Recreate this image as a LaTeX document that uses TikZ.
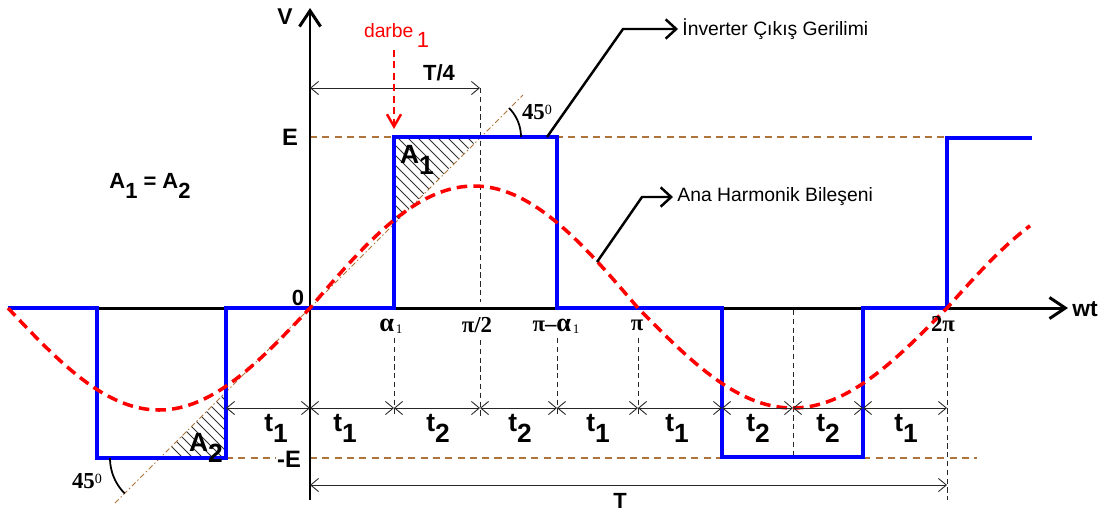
\documentclass[tikz,border=0pt]{standalone}
\usepackage{fontspec}
\setmainfont{Liberation Sans}
\newfontfamily\timesf{Liberation Serif}
\usetikzlibrary{arrows.meta}
\definecolor{wblue}{RGB}{0,0,255}
\definecolor{wred}{RGB}{255,0,0}
\definecolor{wbrown}{RGB}{175,115,60}
\newcommand{\dn}[1]{\raisebox{-0.42em}{#1}}
\begin{document}
\begin{tikzpicture}[x=0.02cm,y=-0.02cm,
  every node/.style={inner sep=0pt, outer sep=0pt},
  axisline/.style={line width=1.7pt, -{Straight Barb[length=9pt,width=12pt,line width=1.7pt]}},
  wave/.style={draw=wblue, line width=2pt, line join=miter},
  fund/.style={draw=wred, line width=2pt, dash pattern=on 6pt off 3.5pt},
  level/.style={draw=wbrown, line width=0.7pt, dash pattern=on 4pt off 3pt},
  slope/.style={draw=wbrown, line width=0.5pt, dash pattern=on 3pt off 1.5pt on 0.8pt off 1.5pt},
  guide/.style={draw=black!85, line width=0.5pt, dash pattern=on 3pt off 2pt},
  dimline/.style={draw=black!85, line width=0.5pt, {Straight Barb[length=4.5pt,width=7.5pt,line width=0.5pt]}-{Straight Barb[length=4.5pt,width=7.5pt,line width=0.5pt]}},
  callout/.style={line width=1.4pt, -{Straight Barb[length=6pt,width=11pt,line width=1.4pt]}},
  pulsearrow/.style={draw=wred, line width=1.4pt, dash pattern=on 4pt off 2.5pt, -{Straight Barb[length=7pt,width=8pt,line width=1.4pt]}},
  hatch/.style={draw=black!80, line width=0.45pt},
  anglemark/.style={line width=1pt},
  sanslbl/.style={font=\bfseries\fontsize{12.5}{14}\selectfont},
  elbl/.style={font=\bfseries\fontsize{13.5}{15}\selectfont},
  biglbl/.style={font=\bfseries\fontsize{13}{15}\selectfont},
  tlbl/.style={font=\bfseries\fontsize{15}{17}\selectfont},
  grklbl/.style={font=\timesf\bfseries\fontsize{13}{15}\selectfont},
  degl/.style={font=\timesf\bfseries\fontsize{13}{15}\selectfont, anchor=west},
  calltext/.style={font=\fontsize{11}{13}\selectfont, anchor=west, outer sep=2.5pt},
]
\fill[white] (0,0) rectangle (1104,512);
\useasboundingbox (0,0) rectangle (1104,512);

% key coordinates
\coordinate (O) at (310,308);
\coordinate (Vtop) at (310,8);
\coordinate (Vbot) at (310,500);
\coordinate (Xl) at (8,308);
\coordinate (Xr) at (1068,308);

% E levels
\coordinate (E0) at (310,137);
\coordinate (E1) at (947,137);
\coordinate (mE0) at (226,458);
\coordinate (mE1) at (276,458);
\coordinate (mE2) at (310,458);
\coordinate (mE3) at (977,458);
\draw[level] (E0) -- (E1);
\draw[level] (mE0) -- (mE1);
\draw[level] (mE2) -- (mE3);

% vertical guides
\coordinate (g1a) at (480,88);  \coordinate (g1b) at (480,302);
\coordinate (g1c) at (480,340); \coordinate (g1d) at (480,416);
\coordinate (g2a) at (394,338); \coordinate (g2b) at (394,416);
\coordinate (g3a) at (557,338); \coordinate (g3b) at (557,416);
\coordinate (g4a) at (638,338); \coordinate (g4b) at (638,416);
\coordinate (g5a) at (793,310); \coordinate (g5b) at (793,457);
\coordinate (g6a) at (947,338); \coordinate (g6b) at (947,500);
\foreach \a/\b in {g1a/g1b,g1c/g1d,g2a/g2b,g3a/g3b,g4a/g4b,g5a/g5b,g6a/g6b}
  \draw[guide] (\a) -- (\b);

% hatching
\begin{scope}
  \clip (394,137) -- (480,137) -- (394,224) -- cycle;
  \foreach \s in {290,300,...,490} \draw[hatch] (\s,130) -- ++(110,110);
\end{scope}
\begin{scope}
  \clip (160,458) -- (226,458) -- (226,392) -- cycle;
  \foreach \s in {110,120,...,240} \draw[hatch] (\s,385) -- ++(90,90);
\end{scope}

% 45 degree line
\coordinate (s0) at (115,503);
\coordinate (s1) at (523,95);
\draw[slope] (s0) -- (s1);

% axes
\draw[axisline] (Vbot) -- (Vtop);
\draw[axisline] (Xl) -- (Xr);

% inverter output
\draw[wave] (8,308) -- (97,308) -- (97,458) -- (226,458) -- (226,308) -- (394,308)
  -- (394,137) -- (557,137) -- (557,308) -- (722,308) -- (722,457) -- (863,457)
  -- (863,308) -- (947,308) -- (947,138) -- (1032,138);

% fundamental
\draw[fund] plot[domain=8:310, samples=50, smooth] (\x, {308 + 102*sin(((\x-8)/302)*180)})
  -- plot[domain=310:638, samples=60, smooth] (\x, {308 - 122*sin(((\x-310)/328)*180)})
  -- plot[domain=638:947, samples=60, smooth] (\x, {308 + 100*sin(((\x-638)/309)*180)})
  -- plot[domain=947:1030, samples=20, smooth] (\x, {308 - 110*sin(((\x-947)/309)*180)});

% angle marks
\draw[anglemark] plot[domain=0:45, samples=20, smooth] ({480+41*cos(\x)},{137-41*sin(\x)});
\draw[anglemark] plot[domain=0:45, samples=20, smooth] ({160-50*cos(\x)},{458+50*sin(\x)});
\node[degl] (deg1) at (522,112) {45{\fontsize{8}{9}\selectfont\mdseries\raisebox{0.75ex}{0}}};
\node[degl] (deg2) at (72,481) {45{\fontsize{8}{9}\selectfont\mdseries\raisebox{0.75ex}{0}}};

% time dimension line
\foreach \n/\x in {0/226,1/310,2/394,3/480,4/557,5/638,6/722,7/793,8/863,9/947}
  \coordinate (t\n) at (\x,408);
\foreach \a/\b in {0/1,1/2,2/3,3/4,4/5,5/6,6/7,7/8,8/9}
  \draw[dimline] (t\a) -- (t\b);

\node[tlbl] (lt0) at (276,428) {t\dn{1}};
\node[tlbl] (lt1) at (345,428) {t\dn{1}};
\node[tlbl] (lt2) at (438,428) {t\dn{2}};
\node[tlbl] (lt3) at (520,428) {t\dn{2}};
\node[tlbl] (lt4) at (598,428) {t\dn{1}};
\node[tlbl] (lt5) at (677,428) {t\dn{1}};
\node[tlbl] (lt6) at (758,428) {t\dn{2}};
\node[tlbl] (lt7) at (828,428) {t\dn{2}};
\node[tlbl] (lt8) at (906,428) {t\dn{1}};

% T/4 and T
\coordinate (q0) at (310,88);
\coordinate (q1) at (480,88);
\draw[dimline] (q0) -- (q1);
\node[sanslbl] (lq) at (439,73) {T/4};
\coordinate (r0) at (310,485);
\coordinate (r1) at (947,485);
\draw[dimline] (r0) -- (r1);
\node[sanslbl] (lr) at (620,501) {T};

% axis labels
\node[biglbl] (lV) at (285,17) {V};
\node[biglbl] (lwt) at (1085,309) {wt};
\node[sanslbl] (l0) at (298,298) {0};
\node[elbl] (lE) at (290,137) {E};
\node[elbl] (lmE) at (289,459) {-E};

\node[grklbl] (la1) at (391,326) {{\fontsize{15}{16}\selectfont α}\hspace{1pt}{\fontsize{7.5}{8}\selectfont\mdseries\raisebox{-0.4ex}{1}}};
\node[grklbl] (lpi2) at (477,325) {π/2};
\node[grklbl] (lpia) at (556,326) {π–{\fontsize{15}{16}\selectfont α}\hspace{1pt}{\fontsize{7.5}{8}\selectfont\mdseries\raisebox{-0.4ex}{1}}};
\node[grklbl] (lpi) at (637,325) {π};
\node[grklbl] (l2pi) at (943,324) {2π};

% area labels
\node[tlbl] (A1) at (417,160) {A\dn{1}};
\node[tlbl] (A2) at (206,448) {A\dn{2}};
\node[font=\bfseries\fontsize{12.5}{14}\selectfont] (Aeq) at (150,186) {A\dn{1} = A\dn{2}};

% darbe
\node[anchor=base west, text=wred, font=\fontsize{11}{13}\selectfont] (darbe) at (364,37)
  {darbe\hspace{2pt}{\fontsize{12.5}{14}\selectfont\raisebox{-0.9ex}{1}}};
\coordinate (d0) at (394,50);
\coordinate (d1) at (394,129);
\draw[pulsearrow] (d0) -- (d1);

% callouts
\coordinate (ca) at (547,137);
\coordinate (cb) at (623,29);
\node[calltext] (inv) at (678,29) {İnverter Çıkış Gerilimi};
\draw[callout] (ca) -- (cb) -- (inv.west);
\coordinate (cc) at (597,262);
\coordinate (cd) at (642,197);
\node[calltext] (ana) at (673,197) {Ana Harmonik Bileşeni};
\draw[callout] (cc) -- (cd) -- (ana.west);
\end{tikzpicture}
\end{document}
